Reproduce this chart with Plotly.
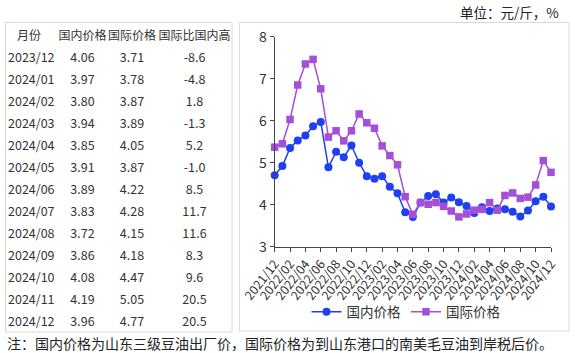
import plotly.graph_objects as go

# ---- data ----
months = ["2021/12", "2022/01", "2022/02", "2022/03", "2022/04", "2022/05", "2022/06",
          "2022/07", "2022/08", "2022/09", "2022/10", "2022/11", "2022/12",
          "2023/01", "2023/02", "2023/03", "2023/04", "2023/05", "2023/06",
          "2023/07", "2023/08", "2023/09", "2023/10", "2023/11", "2023/12",
          "2024/01", "2024/02", "2024/03", "2024/04", "2024/05", "2024/06",
          "2024/07", "2024/08", "2024/09", "2024/10", "2024/11", "2024/12"]
domestic = [4.70, 4.92, 5.35, 5.53, 5.65, 5.87, 5.97, 4.89, 5.26, 5.13, 5.41, 5.00, 4.68,
            4.62, 4.68, 4.43, 4.27, 3.82, 3.71, 4.05, 4.21, 4.25, 4.05, 4.17, 4.06,
            3.97, 3.80, 3.94, 3.85, 3.91, 3.89, 3.83, 3.72, 3.86, 4.08, 4.19, 3.96]
international = [5.37, 5.45, 6.03, 6.85, 7.35, 7.46, 6.76, 5.61, 5.76, 5.52, 5.76, 6.16, 5.95,
                 5.82, 5.40, 5.17, 4.95, 4.19, 3.77, 4.05, 4.01, 4.05, 3.96, 3.85, 3.71,
                 3.78, 3.87, 3.89, 4.05, 3.87, 4.22, 4.28, 4.15, 4.18, 4.47, 5.05, 4.77]
table_months = months[24:]
table_dom = domestic[24:]
table_int = international[24:]
table_diff = [-8.6, -4.8, 1.8, -1.3, 5.2, -1.0, 8.5, 11.7, 11.6, 8.3, 9.6, 20.5, 20.5]
header = ["月份", "国内价格", "国际价格", "国际比国内高"]
tick_labels = months[::2]
unit_text = "单位：元/斤，%"
note_text = "注：国内价格为山东三级豆油出厂价，国际价格为到山东港口的南美毛豆油到岸税后价。"

W, H = 575, 353
BLUE = "#1f3ff2"
PURPLE = "#a44fd8"
FONT = "Noto Sans CJK SC"

def px_x(x):
    return x / W

def px_y(y):
    return 1 - y / H

fig = go.Figure()

fig.add_trace(go.Table(
    domain=dict(x=[0, px_x(232)], y=[px_y(331), px_y(23)]),
    columnwidth=[58, 49, 50, 75],
    header=dict(values=header, height=22, align=["center"] * 4,
                font=dict(family=FONT, size=12, color="#333333"),
                fill_color="rgba(0,0,0,0)", line=dict(width=0, color="rgba(0,0,0,0)")),
    cells=dict(values=[table_months,
                       [f"{v:.2f}" for v in table_dom],
                       [f"{v:.2f}" for v in table_int],
                       [f"{v:.1f}" for v in table_diff]],
               height=22, align=["left", "center", "center", "center"],
               font=dict(family=FONT, size=12.5, color="#333333"),
               fill_color="rgba(0,0,0,0)", line=dict(width=0, color="rgba(0,0,0,0)")),
))

fig.add_trace(go.Scatter(
    x=months, y=domestic, name="国内价格", mode="lines+markers",
    line=dict(color=BLUE, width=1.5), marker=dict(symbol="circle", size=8, color=BLUE),
    cliponaxis=False,
))
fig.add_trace(go.Scatter(
    x=months, y=international, name="国际价格", mode="lines+markers",
    line=dict(color=PURPLE, width=1.5), marker=dict(symbol="square", size=7.5, color=PURPLE),
    cliponaxis=False,
))

fig.update_layout(
    width=W, height=H, margin=dict(l=0, r=0, t=0, b=0, autoexpand=False),
    paper_bgcolor="white", plot_bgcolor="white",
    font=dict(family=FONT, color="#333333"),
    xaxis=dict(domain=[px_x(274.7), px_x(551)], type="category", range=[0, 36],
               automargin=False,
               tickmode="array", tickvals=tick_labels, ticktext=tick_labels,
               tickangle=-52, tickfont=dict(size=12.5, color="#333333"),
               showline=True, linecolor="#444444", linewidth=1,
               ticks="outside", ticklen=4, tickcolor="#444444",
               showgrid=False, zeroline=False),
    yaxis=dict(domain=[px_y(246.7), px_y(36.7)], range=[3, 8],
               automargin=False,
               tickvals=[3, 4, 5, 6, 7, 8], tickfont=dict(size=14, color="#333333"),
               showline=True, linecolor="#444444", linewidth=1,
               ticks="outside", ticklen=4, tickcolor="#444444",
               showgrid=False, zeroline=False),
    showlegend=True,
    legend=dict(orientation="h", x=px_x(406), xanchor="center", y=px_y(312), yanchor="middle",
                font=dict(size=13.5, color="#333333"), bgcolor="rgba(0,0,0,0)"),
    shapes=[
        dict(type="rect", xref="paper", yref="paper", x0=px_x(5.5), x1=px_x(232),
             y0=px_y(332), y1=px_y(22.5), line=dict(color="#d9d9d9", width=1)),
        dict(type="rect", xref="paper", yref="paper", x0=px_x(239.5), x1=px_x(569),
             y0=px_y(331), y1=px_y(22.5), line=dict(color="#d9d9d9", width=1)),
    ],
    annotations=[
        dict(text=unit_text, xref="paper", yref="paper", x=px_x(561), y=px_y(12),
             xanchor="right", yanchor="middle", align="right", showarrow=False,
             font=dict(size=13.5, color="#222222")),
        dict(text=note_text, xref="paper", yref="paper", x=px_x(5), y=px_y(343),
             xanchor="left", yanchor="middle", align="left", showarrow=False,
             font=dict(size=14, color="#222222")),
    ],
)

fig.write_html("out.html")
